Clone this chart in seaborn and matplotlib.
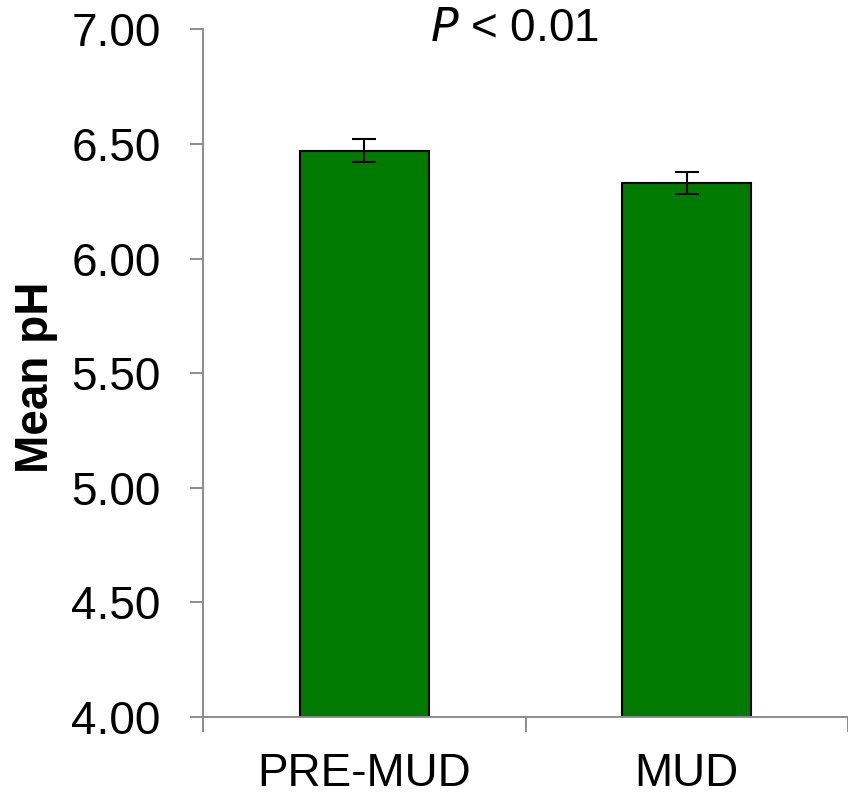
import matplotlib
matplotlib.use("Agg")
import matplotlib.pyplot as plt
import seaborn as sns
import pandas as pd
import numpy as np

# Mean soil pH before and during mud deposition
categories = ["PRE-MUD", "MUD"]
mean_ph = [6.47, 6.33]
ph_error = [0.05, 0.05]
y_ticks = [4.00, 4.50, 5.00, 5.50, 6.00, 6.50, 7.00]

sns.set_style("white")
plt.rcParams["font.family"] = ["Liberation Sans", "DejaVu Sans"]
plt.rcParams["text.color"] = "black"
plt.rcParams["axes.labelcolor"] = "black"
plt.rcParams["xtick.labelcolor"] = "black"
plt.rcParams["ytick.labelcolor"] = "black"

W, H = 848, 794
fig = plt.figure(figsize=(W / 100, H / 100), dpi=100)
left, right, top, bottom = 203, 848, 29.4, 717
ax = fig.add_axes([left / W, 1 - bottom / H, (right - left) / W, (bottom - top) / H])

df = pd.DataFrame({"group": categories, "ph": mean_ph})
sns.barplot(data=df, x="group", y="ph", color="#007a00", saturation=1,
            width=0.4, edgecolor="black", linewidth=1.5, errorbar=None, ax=ax)
ax.errorbar(np.arange(len(categories)), mean_ph, yerr=ph_error, fmt="none",
            ecolor="black", elinewidth=1.5, capsize=8.5, capthick=1.5, zorder=5)

ax.set_ylim(4.0, 7.0)
ax.set_xlim(-0.5, 1.479)
ax.set_yticks(y_ticks)
ax.set_yticklabels([f"{v:.2f}" for v in y_ticks])
ax.set_xticks(range(len(categories)))
ax.set_xticklabels(categories)
ax.set_xticks([-0.5, 0.5, 1.5], minor=True)

spine_col = "#8c8c8c"
for s in ["top", "right"]:
    ax.spines[s].set_visible(False)
for s in ["left", "bottom"]:
    ax.spines[s].set_color(spine_col)
    ax.spines[s].set_linewidth(1.4)

ax.tick_params(axis="y", which="major", direction="out", length=9.5, width=1.4,
               color=spine_col, labelsize=33, pad=21, left=True)
ax.tick_params(axis="x", which="major", length=0, labelsize=33, pad=25)
ax.tick_params(axis="x", which="minor", direction="out", length=11, width=1.4,
               color=spine_col, bottom=True)

ax.set_xlabel("")
ax.set_ylabel("Mean pH", fontsize=33, fontweight="bold")
ax.yaxis.set_label_coords(-(left - 58) / (right - left), 0.494)

ax.text(0.483, 1.0, r"$\it{P}$ < 0.01", transform=ax.transAxes,
        ha="center", va="center", fontsize=33)
ax.grid(False)

fig.savefig("out.png", dpi=100, facecolor="white")
